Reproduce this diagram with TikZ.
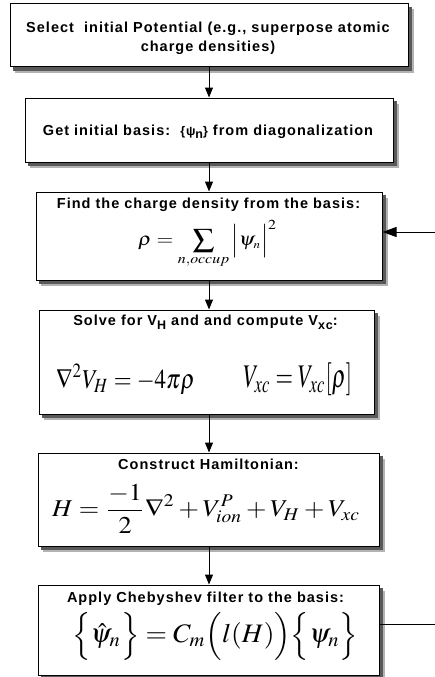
\documentclass[tikz,border=0pt]{standalone}
\usepackage{mathptmx}
\usepackage{fontspec}
\setsansfont{Liberation Sans}
\usetikzlibrary{arrows.meta,backgrounds,calc}
\tikzset{
  box/.style={draw=black, line width=1pt, fill=white, rectangle},
  ttl/.style={font=\fontsize{14.5}{19}\selectfont\sffamily\bfseries\addfontfeatures{LetterSpace=7}, align=center, inner sep=0pt},
  mth/.style={inner sep=0pt, anchor=north west},
  conn/.style={draw=black, line width=1pt},
  arr/.style={conn, -{Triangle[length=10pt,width=8pt]}},
  bigarr/.style={conn, -{Triangle[length=14pt,width=10pt]}},
  shadowa/.style={fill=black!30},
  shadowb/.style={fill=black!65}
}
\newcommand{\lowsub}[1]{\raisebox{-0.55ex}{\fontsize{12.5}{14}\selectfont #1}}
\newcommand{\fitmath}[3]{\resizebox*{#1pt}{#2pt}{$\displaystyle #3$}}
\newcommand{\boxshadow}[1]{%
  \fill[shadowa] ($(#1.north west)+(5,6)$) rectangle ($(#1.south east)+(5.5,5.5)$);
  \fill[shadowb] ($(#1.north west)+(3,3.5)$) rectangle ($(#1.south east)+(3.5,3.5)$);}
\begin{document}
\begin{tikzpicture}[x=1pt,y=-1pt]
\useasboundingbox (0,0) rectangle (435,677);
% boxes
\node[box, minimum width=398pt, minimum height=63pt] (b1) at (209,35.5) {};
\node[box, minimum width=368pt, minimum height=64pt] (b2) at (209,130) {};
\node[box, minimum width=346pt, minimum height=88pt] (b3) at (209,236) {};
\node[box, minimum width=335pt, minimum height=104pt] (b4) at (206.5,362) {};
\node[box, minimum width=341pt, minimum height=93pt] (b5) at (208.5,499.5) {};
\node[box, minimum width=341pt, minimum height=90pt] (b6) at (208.5,630) {};
\begin{scope}[on background layer]
\boxshadow{b1}
\boxshadow{b2}
\boxshadow{b3}
\boxshadow{b4}
\boxshadow{b5}
\boxshadow{b6}
\end{scope}
% texts
\node[ttl] (t1) at (208,38) {Select\ \ initial Potential (e.g., superpose atomic\\charge densities)};
\node[ttl] (t2) at (208,132) {Get initial basis:\ \ {\fontsize{12.5}{15}\selectfont\{ψ\raisebox{-0.5ex}{n}\}} from diagonalization};
\node[ttl] (t3) at (208.5,205) {Find the charge density from the basis:};
\node[mth] (m3) at (138,220) {\fitmath{139}{48}{\rho = \sum\limits_{\scriptstyle n,occup}\,\Bigl|\psi_{\scriptscriptstyle n}\Bigr|^{2}}};
\node[ttl] (t4) at (205.5,322) {Solve for V\lowsub{H} and and compute V\lowsub{xc}:};
\node[mth] (m4a) at (56,364) {\fitmath{139}{31}{\nabla^{2}V_{H} = -4\pi\rho}};
\node[mth] (m4b) at (243,363) {\fitmath{109}{33}{V_{xc} = V_{xc}[\rho]}};
\node[ttl] (t5) at (208.5,464) {Construct Hamiltonian:};
\node[mth] (m5) at (52,484) {\fitmath{308}{49}{H = \frac{-1}{2}\nabla^{2} + V_{ion}^{P} + V_{H} + V_{xc}}};
\node[ttl] (t6) at (205.5,599) {Apply Chebyshev filter to the basis:};
\node[mth] (m6) at (72,612) {\fitmath{286}{48}{\Bigl\{\hat{\psi}_{n}\Bigr\} = C_{m}\Bigl(l(H)\Bigr)\Bigl\{\psi_{n}\Bigr\}}};
% connectors
\draw[arr] (b1.south) -- (b2.north);
\draw[arr] (b2.south) -- (b3.north);
\draw[arr] (b3.south) -- (b3.south |- b4.north);
\draw[arr] (b3.south |- b4.south) -- (b3.south |- b5.north);
\draw[arr] (b3.south |- b5.south) -- (b3.south |- b6.north);
\coordinate (in3) at (435,232);
\coordinate (out6) at (435,624);
\draw[bigarr] (in3) -- (b3.east |- in3);
\draw[conn] (b6.east |- out6) -- (out6);
\end{tikzpicture}
\end{document}
